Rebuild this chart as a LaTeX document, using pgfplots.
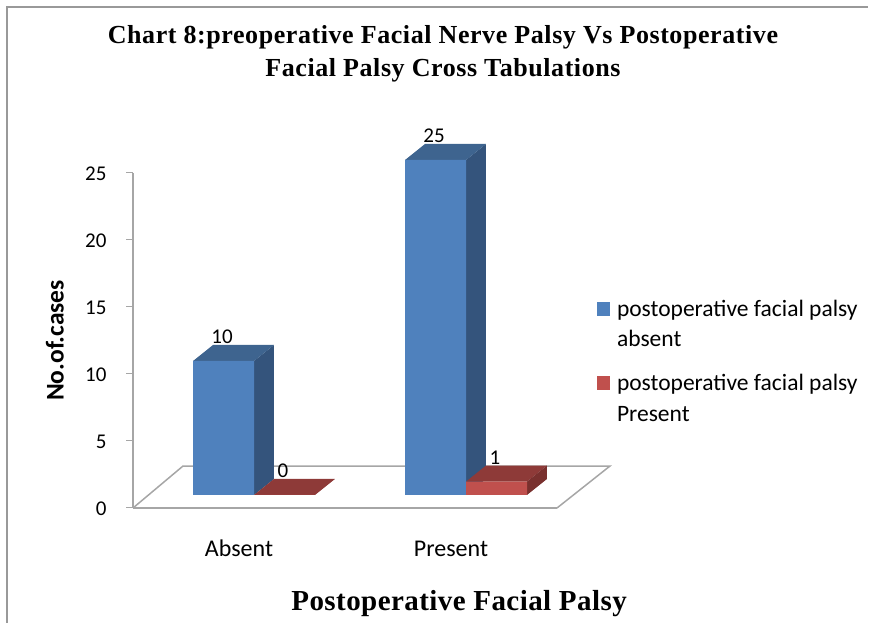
\documentclass[border=0pt]{standalone}
\usepackage{fontspec}
\setmainfont{Carlito}
\newfontfamily\titlefont[LetterSpace=2.2]{Liberation Serif}
\newfontfamily\xlabfont[LetterSpace=1.5]{Liberation Serif}
\usepackage{pgfplots}
\pgfplotsset{compat=1.18}
\definecolor{bluefront}{HTML}{4F81BD}
\definecolor{bluetop}{HTML}{3E648F}
\definecolor{blueside}{HTML}{34547C}
\definecolor{redfront}{HTML}{C0504D}
\definecolor{redtop}{HTML}{8E3A38}
\definecolor{redside}{HTML}{79302E}
\definecolor{axisgray}{HTML}{A6A6A6}
\definecolor{framegray}{HTML}{999999}
\begin{document}
\begin{tikzpicture}[x=1pt,y=1pt]
\useasboundingbox (0,0) rectangle (869,623);
\draw[framegray,line width=1.5pt] (7,0) -- (7,616) -- (868,616);
% front axis: ticks, labels, floor
\begin{axis}[
  at={(133pt,115pt)},anchor=south west,
  scale only axis,width=424pt,height=335pt,
  xmin=-0.5,xmax=1.5,ymin=0,ymax=25,
  clip=false,
  axis x line=bottom,axis y line=left,
  axis line style={-,draw=axisgray,line width=1.5pt},
  xtick={0,1},xticklabels={Absent,Present},
  ytick={0,5,10,15,20,25},
  /pgf/number format/assume math mode=true,
  tick align=outside,
  xtick style={draw=none},
  ytick style={draw=axisgray,line width=1pt},
  major tick length=7pt,
  typeset ticklabels with strut,
  xticklabel style={font=\fontsize{24}{27}\selectfont,yshift=-19pt},
  yticklabel style={font=\fontsize{21}{24}\selectfont,xshift=-16pt,yshift=-2.5pt},
  title={\titlefont\bfseries Chart 8:preoperative Facial Nerve Palsy Vs Postoperative\\[5pt]\titlefont\bfseries Facial Palsy Cross Tabulations},
  title style={align=center,font=\fontsize{26}{28}\selectfont,at={(axis description cs:0.731,1.338)},anchor=center},
  xlabel={\xlabfont\bfseries Postoperative Facial Palsy},
  xlabel style={font=\fontsize{29}{31}\selectfont,at={(axis description cs:0.769,-0.2846)},anchor=center},
  ylabel={\bfseries No.of.cases},
  ylabel style={font=\fontsize{25.5}{27}\selectfont,at={(axis description cs:-0.184,0.50)},anchor=center},
]
\addplot[draw=axisgray,line width=1.5pt,forget plot] coordinates {(-0.5,0) (-0.264,3.134) (1.75,3.134) (1.5,0)};
\end{axis}
% bars, on the floor, shifted to the middle of its depth
\begin{axis}[
  at={(148pt,128pt)},anchor=south west,
  scale only axis,width=424pt,height=335pt,
  xmin=-0.5,xmax=1.5,ymin=0,ymax=25,
  clip=false,hide axis,
  /pgf/number format/assume math mode=true,
  legend style={draw=none,fill=none,
    at={(axis description cs:1.0514,0.595)},anchor=north west,
    font=\fontsize{23.5}{30.5}\selectfont,
    nodes={align=left},
    row sep=22pt,
    /tikz/every odd column/.append style={column sep=5pt}},
  legend cell align=left,
]
\addplot[fill=blueside,draw=none,forget plot] coordinates {(0,0) (0,10) (0.0943,11.194) (0.0943,1.194)} --cycle;
\addplot[fill=bluetop,draw=none,forget plot] coordinates {(-0.2877,10) (0,10) (0.0943,11.194) (-0.1934,11.194)} --cycle;
\addplot[fill=blueside,draw=none,forget plot] coordinates {(1,0) (1,25) (1.0943,26.194) (1.0943,1.194)} --cycle;
\addplot[fill=bluetop,draw=none,forget plot] coordinates {(0.7123,25) (1,25) (1.0943,26.194) (0.8066,26.194)} --cycle;
\addplot[fill=redtop,draw=none,forget plot] coordinates {(0,0) (0.2877,0) (0.382,1.194) (0.0943,1.194)} --cycle;
\addplot[fill=redtop,draw=none,forget plot] coordinates {(1,1) (1.2877,1) (1.382,2.194) (1.0943,2.194)} --cycle;
\addplot[fill=redside,draw=none,forget plot] coordinates {(1.2877,0) (1.2877,1) (1.382,2.194) (1.382,1.194)} --cycle;
\addplot[ybar,bar width=61pt,bar shift=-30.5pt,draw=none,fill=bluefront,
  nodes near coords,
  every node near coord/.append style={text=black,font=\fontsize{21}{24}\selectfont,anchor=center,yshift=24pt,xshift=-32pt},
  legend image code/.code={\fill[bluefront] (0pt,8pt) rectangle (13pt,22pt);}]
  coordinates {(0,10) (1,25)};
\addlegendentry{postoperative facial palsy\\absent}
\addplot[ybar,bar width=61pt,bar shift=30.5pt,draw=none,fill=redfront,
  nodes near coords,
  every node near coord/.append style={text=black,font=\fontsize{21}{24}\selectfont,anchor=center,yshift=24pt,xshift=29pt},
  legend image code/.code={\fill[redfront] (0pt,8pt) rectangle (13pt,22pt);}]
  coordinates {(0,0) (1,1)};
\addlegendentry{postoperative facial palsy\\Present}
\end{axis}
\end{tikzpicture}
\end{document}
